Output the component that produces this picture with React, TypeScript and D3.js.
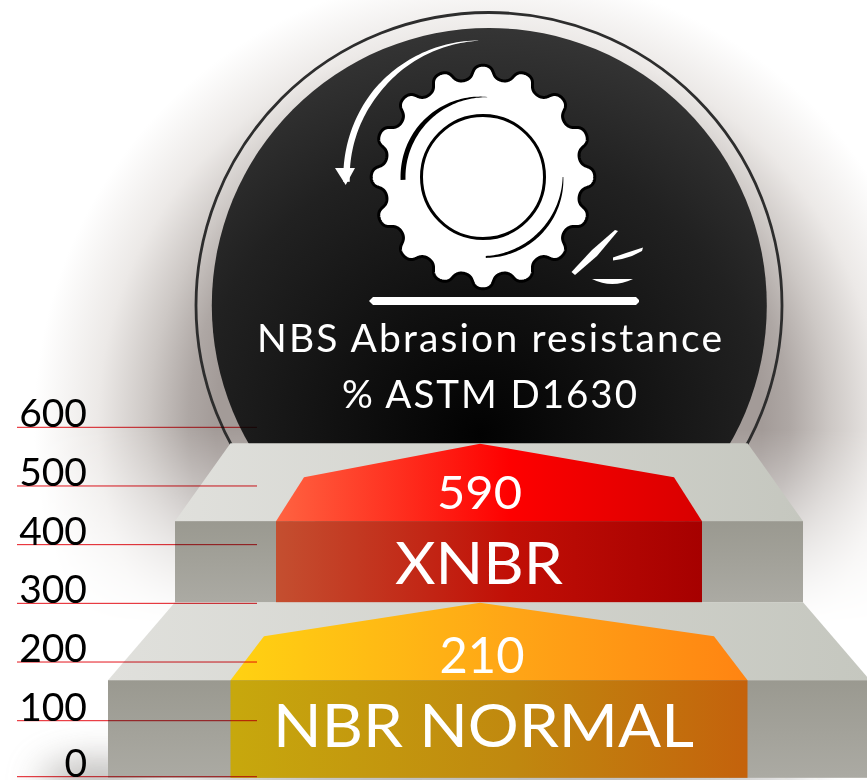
import React from "react";
import * as d3 from "d3";

// ---- data ----
const categories = ["NBR NORMAL", "XNBR"];
const values = [210, 590];
const axisTicks = [0, 100, 200, 300, 400, 500, 600];
const titleLines = ["NBS Abrasion resistance", "% ASTM D1630"];

// step geometry, in axis units
const stepBase = [-2, 302];
const stepFrontTop = [169, 440];
const stepShoulder = [244, 515];
const stepTop = [302, 573];
// half widths from the chart's centre
const plinthFrontHalf = [381, 314];
const plinthTopHalf = [314, 258.5];
const barHalf = [258.5, 213];
const shoulderHalf = [225, 185];
const apexOffset = -9;

const roofColors = [
  ["#ffd212", "#ffa516", "#ff8412"],
  ["#ff6341", "#fe0000", "#d80000"],
];
const frontColors = [
  ["#c7a80d", "#c0880f", "#c4620c"],
  ["#c44f30", "#c10f06", "#a60000"],
];
const valueFont = [50, 47];
const nameFont = [60, 59];
const valueWidth = [85, 85];
const nameWidth = [421, 168];

const W = 867;
const H = 780;
const cx = 489;
const cy = 305.5;

const y = d3.scaleLinear().domain([0, 100, 600]).range([776.7, 720.7, 427.3]);
const x = d3.scaleLinear().domain([-489, 378]).range([0, 867]);

const poly = d3.line<[number, number]>().x((d) => d[0]).y((d) => d[1]);

// gear centre
const gx = 483;
const gy = 177;

function gearPath() {
  const teeth = 16;
  const pts: [number, number][] = d3.range(0, 1440).map((i) => {
    const phi = (i / 1440) * Math.PI * 2 * teeth;
    const t = (phi + 0.24 * Math.sin(2 * phi)) / teeth;
    const r = 105 + 6.8 * Math.cos(phi);
    return [r * Math.sin(t), -r * Math.cos(t)];
  });
  return d3.line().curve(d3.curveLinearClosed)(pts) as string;
}

// crescent: angles in degrees, clockwise from 12 o'clock
function taper(r: number, a0: number, a1: number, w: (u: number) => number) {
  const us = d3.range(0, 61).map((i) => i / 60);
  const pos = (u: number, rr: number): [number, number] => {
    const a = ((a0 + (a1 - a0) * u) * Math.PI) / 180;
    return [rr * Math.sin(a), -rr * Math.cos(a)];
  };
  const out = us.map((u) => pos(u, r + w(u) / 2));
  const inn = us.slice().reverse().map((u) => pos(u, r - w(u) / 2));
  return d3.line().curve(d3.curveLinearClosed)([...out, ...inn]) as string;
}

export default function App() {
  const font = "Lato, sans-serif";
  return (
    <svg
      width={W}
      height={H}
      viewBox={`0 0 ${W} ${H}`}
      style={{ position: "absolute", left: 0, top: 0, display: "block", background: "#fff" }}
    >
      <defs>
        <radialGradient id="halo" gradientUnits="userSpaceOnUse" cx={489} cy={425} r={455}>
          <stop offset="0.6" stopColor="#a39b98" />
          <stop offset="0.66" stopColor="#aea7a4" />
          <stop offset="0.75" stopColor="#cdc8c5" />
          <stop offset="0.86" stopColor="#ece9e7" />
          <stop offset="1" stopColor="#ffffff" />
        </radialGradient>
        <linearGradient id="fade" gradientUnits="userSpaceOnUse" x1={0} y1={430} x2={0} y2={625}>
          <stop offset="0" stopColor="#fff" />
          <stop offset="1" stopColor="#000" />
        </linearGradient>
        <mask id="fadeMask" maskUnits="userSpaceOnUse" x={0} y={0} width={W} height={H}>
          <rect width={W} height={H} fill="url(#fade)" />
        </mask>
        <radialGradient id="disc" gradientUnits="userSpaceOnUse" cx={480} cy={435} r={410}>
          <stop offset="0" stopColor="#020202" />
          <stop offset="0.35" stopColor="#111111" />
          <stop offset="0.7" stopColor="#212121" />
          <stop offset="1" stopColor="#353535" />
        </radialGradient>
        <filter id="blur" x="-30%" y="-200%" width="160%" height="500%">
          <feGaussianBlur stdDeviation="18" />
        </filter>
        <linearGradient id="topFace" x1="0" x2="1" y1="0" y2="0">
          <stop offset="0" stopColor="#e0e0dc" />
          <stop offset="1" stopColor="#c5c7bf" />
        </linearGradient>
        <linearGradient id="plinth" x1="0" x2="0" y1="0" y2="1">
          <stop offset="0" stopColor="#9a9990" />
          <stop offset="1" stopColor="#abaaa3" />
        </linearGradient>
        {categories.map((_, i) => (
          <React.Fragment key={i}>
            <linearGradient id={`roof${i}`} x1="0" x2="1" y1="0" y2="0">
              <stop offset="0" stopColor={roofColors[i][0]} />
              <stop offset="0.55" stopColor={roofColors[i][1]} />
              <stop offset="1" stopColor={roofColors[i][2]} />
            </linearGradient>
            <linearGradient id={`front${i}`} x1="0" x2="1" y1="0" y2="0">
              <stop offset="0" stopColor={frontColors[i][0]} />
              <stop offset="0.55" stopColor={frontColors[i][1]} />
              <stop offset="1" stopColor={frontColors[i][2]} />
            </linearGradient>
          </React.Fragment>
        ))}
      </defs>

      {/* halo */}
      <rect width={W} height={H} fill="url(#halo)" mask="url(#fadeMask)" />
      <ellipse cx={100} cy={782} rx={60} ry={22} fill="#8d8a86" opacity={0.6} filter="url(#blur)" />
      <ellipse cx={cx} cy={785} rx={330} ry={8} fill="#3a3a38" filter="url(#blur)" />

      {/* disc */}
      <circle cx={cx} cy={cy} r={293} fill="none" stroke="#2d2d2d" strokeWidth={2.8} />
      <circle cx={cx + 0.3} cy={cy} r={277.5} fill="url(#disc)" />

      {/* abrasion icon */}
      <g transform={`translate(${gx},${gy})`}>
        <path d={gearPath()} fill="#fff" stroke="#000" strokeWidth={3} strokeLinejoin="round" />
        <circle r={61.5} fill="#fff" stroke="#000" strokeWidth={3} />
        <path d={taper(80, 3, -92, (u) => 0.4 + 4.6 * Math.sin(Math.min(1, u * 1.15) * Math.PI * 0.55))} fill="#000" />
        <path d={taper(80, 90, 178, (u) => 0.3 + 3.6 * Math.sin(u * Math.PI * 0.75 + 0.1) * (1 - u * 0.3))} fill="#000" />
        <path d={taper(136.5, -2, -92, (u) => 0.4 + 6 * Math.min(1, u * 1.8))} fill="#fff" />
        <path d={poly([[-148, -9], [-128, -9], [-137.3, 8]]) + "Z"} fill="#fff" />
      </g>
      <path
        d={poly([[369, 301], [373, 297], [636, 297], [639, 300], [639, 302], [636, 305], [373, 305]]) + "Z"}
        fill="#fff"
      />
      <path d={poly([[571.5, 272], [575, 275], [597, 256], [618, 231], [615, 230], [592, 250]]) + "Z"} fill="#fff" />
      <path d={poly([[613, 257.5], [626, 253], [643, 247.5], [642, 251], [632, 256], [622, 259], [613, 260.5]]) + "Z"} fill="#fff" />
      <path d="M592,279 L633,279 Q612,289 592,279 Z" fill="#fff" />

      {/* title */}
      <text
        x={cx + 0.5}
        y={351.5}
        textAnchor="middle"
        fontFamily={font}
        fontSize={39}
        fill="#fff"
        textLength={465}
        lengthAdjust="spacing"
      >
        {titleLines[0]}
      </text>
      <text
        x={cx + 0.5}
        y={407.5}
        textAnchor="middle"
        fontFamily={font}
        fontSize={38.5}
        fill="#fff"
        textLength={295}
        lengthAdjust="spacing"
      >
        {titleLines[1]}
      </text>

      {/* steps, upper one last so that it sits on the lower one */}
      {categories.map((name, i) => {
        const base = y(stepBase[i]);
        const front = y(stepFrontTop[i]);
        const shoulder = y(stepShoulder[i]);
        const top = y(stepTop[i]);
        return (
          <g key={name}>
            <path
              d={poly([
                [x(-plinthFrontHalf[i]), front],
                [x(-plinthTopHalf[i]), top],
                [x(plinthTopHalf[i]), top],
                [x(plinthFrontHalf[i]), front],
              ]) + "Z"}
              fill="url(#topFace)"
            />
            <rect
              x={x(-plinthFrontHalf[i])}
              y={front}
              width={plinthFrontHalf[i] * 2}
              height={base - front}
              fill="url(#plinth)"
            />
            <path
              d={poly([
                [x(-barHalf[i]), front],
                [x(-shoulderHalf[i]), shoulder],
                [x(apexOffset), top + 0.5],
                [x(shoulderHalf[i]), shoulder],
                [x(barHalf[i]), front],
              ]) + "Z"}
              fill={`url(#roof${i})`}
            />
            <rect
              x={x(-barHalf[i])}
              y={front}
              width={barHalf[i] * 2}
              height={base - front}
              fill={`url(#front${i})`}
            />
            <text
              x={x(i === 0 ? -7 : -9.5)}
              y={i === 0 ? 672.5 : 509}
              textAnchor="middle"
              fontFamily={font}
              fontSize={valueFont[i]}
              fill="#fff"
              textLength={valueWidth[i]}
              lengthAdjust="spacingAndGlyphs"
            >
              {values[i]}
            </text>
            <text
              x={x(i === 0 ? -5.5 : -10)}
              y={i === 0 ? 747 : 584}
              textAnchor="middle"
              fontFamily={font}
              fontSize={nameFont[i]}
              fill="#fff"
              textLength={nameWidth[i]}
              lengthAdjust="spacingAndGlyphs"
            >
              {name}
            </text>
          </g>
        );
      })}

      {/* axis */}
      {axisTicks.map((t) => (
        <g key={t}>
          <text x={87} y={y(t)} textAnchor="end" fontFamily={font} fontSize={39} fill="#000">
            {t}
          </text>
          <line
            x1={17}
            x2={257}
            y1={y(t)}
            y2={y(t)}
            stroke="#e5141c"
            strokeWidth={1}
            style={{ mixBlendMode: "multiply" }}
          />
        </g>
      ))}
    </svg>
  );
}
